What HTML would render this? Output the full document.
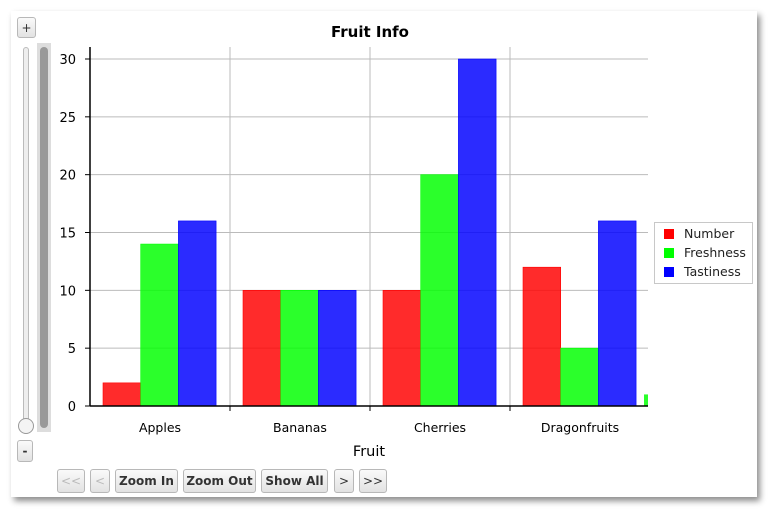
<!DOCTYPE html>
<html><head><meta charset="utf-8"><style>
body{margin:0;width:775px;height:517px;background:#fff;position:relative;overflow:hidden;font-family:"DejaVu Sans","Liberation Sans",sans-serif}
#panel{position:absolute;left:11px;top:11px;width:746px;height:486px;background:#fff;box-shadow:3px 4px 6px rgba(0,0,0,.45)}
.btn{position:absolute;box-sizing:border-box;border:1px solid #b8b8b8;border-radius:3px;background:linear-gradient(#fafafa,#e2e2e2);font-size:12px;font-weight:bold;color:#333;display:flex;align-items:center;justify-content:center}
.dis{color:#bbb;font-weight:normal}
svg{position:absolute;left:0;top:0}
</style></head><body>
<div id="panel"></div>
<div class="btn" style="left:17px;top:17px;width:19px;height:21px;font-weight:normal">+</div>
<div class="btn" style="left:17px;top:440px;width:16px;height:22px">-</div>
<div style="position:absolute;left:23px;top:47px;width:4px;height:378px;border:1px solid #bbb;border-radius:3px;background:#eee"></div>
<div style="position:absolute;left:18px;top:418px;width:14px;height:14px;border:1px solid #999;border-radius:50%;background:#f4f4f4"></div>
<div style="position:absolute;left:37px;top:43px;width:14px;height:389px;background:#ddd"><div style="position:absolute;left:3px;top:4px;width:8px;height:381px;border-radius:4px;background:#999"></div></div>
<div class="btn dis" style="left:57px;top:469px;width:28px;height:24px">&lt;&lt;</div>
<div class="btn dis" style="left:90px;top:469px;width:20px;height:24px">&lt;</div>
<div class="btn" style="left:115px;top:469px;width:63px;height:24px">Zoom In</div>
<div class="btn" style="left:183px;top:469px;width:73px;height:24px">Zoom Out</div>
<div class="btn" style="left:261px;top:469px;width:67px;height:24px">Show All</div>
<div class="btn" style="left:334px;top:469px;width:20px;height:24px;font-weight:normal">&gt;</div>
<div class="btn" style="left:359px;top:469px;width:28px;height:24px;font-weight:normal">&gt;&gt;</div>
<svg id="chart" width="775" height="517"></svg>
<script>
const categories=["Apples","Bananas","Cherries","Dragonfruits"];
const numberVals=[2,10,10,12];
const freshnessVals=[14,10,20,5];
const tastinessVals=[16,10,30,16];
const extraFreshness=1;
const yTicks=[0,5,10,15,20,25,30];
const seriesNames=["Number","Freshness","Tastiness"];
const seriesColors=["rgba(255,0,0,0.83)","rgba(0,255,0,0.83)","rgba(0,0,255,0.83)"];
const legendColors=["#f00","#0f0","#00f"];
const svg=document.getElementById('chart');const NS='http://www.w3.org/2000/svg';
const X0=90,X1=648,Y0=406,Y30=59,CW=140,OFF=13,BW=37.7;
const y=v=>Y0-(Y0-Y30)*v/30;
const cx=i=>X0+i*CW;
function el(t,a,p){const e=document.createElementNS(NS,t);for(const k in a)e.setAttribute(k,a[k]);(p||svg).appendChild(e);return e;}
// grid
for(const t of yTicks){if(t>0){const g=el('line',{x1:X0,x2:X1,y1:y(t),y2:y(t),stroke:'#bbb'});}
const tk=el('line',{x1:X0-5,x2:X0,y1:y(t),y2:y(t),stroke:'#000'});
const l=el('text',{x:76,y:y(t)+5,'text-anchor':'end','font-size':13,fill:'#000','font-family':'DejaVu Sans, sans-serif'});l.textContent=t;}
for(let i=1;i<4;i++){const g=el('line',{x1:cx(i),x2:cx(i),y1:47,y2:Y0,stroke:'#bbb'});
const tk=el('line',{x1:cx(i),x2:cx(i),y1:Y0,y2:Y0+5,stroke:'#000'});}
const series=[numberVals,freshnessVals,tastinessVals];
categories.forEach((c,i)=>{series.forEach((s,j)=>{const r=el('rect',{x:cx(i)+OFF+j*BW,y:y(s[i]),width:BW,height:Y0-y(s[i]),fill:seriesColors[j],stroke:seriesColors[j].replace('0.83','1'),'stroke-width':0.6});
});
const l=el('text',{x:cx(i)+CW/2,y:432,'text-anchor':'middle','font-size':12.5,fill:'#000','font-family':'DejaVu Sans, sans-serif'});l.textContent=c;});
const eb=el('rect',{x:644,y:y(extraFreshness),width:X1-644,height:Y0-y(extraFreshness),fill:seriesColors[1]});
const xa=el('line',{x1:X0,x2:X1,y1:Y0,y2:Y0,stroke:'#000','stroke-width':1.5});
const ya=el('line',{x1:X0,x2:X0,y1:47,y2:Y0,stroke:'#000','stroke-width':1.5});
const tt=el('text',{x:370,y:37,'text-anchor':'middle','font-size':15,'font-weight':'bold',fill:'#000','font-family':'DejaVu Sans, sans-serif'});tt.textContent='Fruit Info';
const xt=el('text',{x:369,y:456,'text-anchor':'middle','font-size':14.5,fill:'#000','font-family':'DejaVu Sans, sans-serif'});xt.textContent='Fruit';
const lg=el('rect',{x:654.5,y:222.5,width:98,height:61,fill:'#fff',stroke:'#c8c8c8'});
seriesNames.forEach((n,j)=>{const sw=el('rect',{x:664,y:229+j*19,width:10,height:10,fill:legendColors[j]});
const t=el('text',{x:684,y:238+j*19,'font-size':12.5,fill:'#222','font-family':'DejaVu Sans, sans-serif'});t.textContent=n;});
</script>
</body></html>
